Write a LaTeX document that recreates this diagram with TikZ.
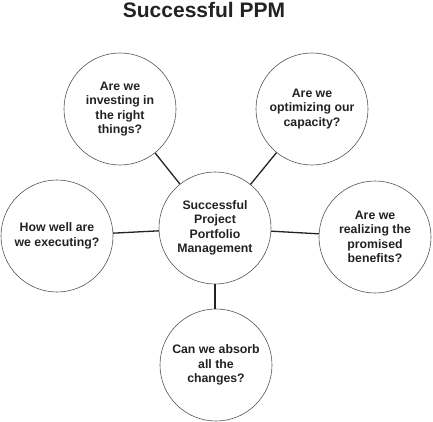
\documentclass[tikz,border=0pt]{standalone}
\usepackage{fontspec}
\setmainfont{Liberation Sans}
\definecolor{inkgray}{HTML}{222222}
\definecolor{rimgray}{HTML}{555555}
\begin{document}
\begin{tikzpicture}[x=1pt, y=-1pt,
		bubble/.style={circle, draw=rimgray, line width=0.6pt, minimum size=112pt, inner sep=0pt,
			align=center, text=inkgray, font=\bfseries\fontsize{12.3}{14.5}\selectfont},
		link/.style={draw=inkgray, line width=1.3pt}]
		\useasboundingbox (0, 0) rectangle (433, 422);
		
		\node[text=inkgray, font=\bfseries\fontsize{21}{24}\selectfont] (title) at (204, 10) {Successful PPM};
		
		\node[bubble] (ctr) at (215, 228) {Successful\\Project\\Portfolio\\Management};
		\node[bubble] (invest) at (120, 109) {Are we\\investing in\\the right\\things?};
		\node[bubble] (capacity) at (312, 109) {Are we\\optimizing our\\capacity?};
		\node[bubble] (execute) at (57, 236) {How well are\\we executing?};
		\node[bubble] (benefits) at (375, 237) {Are we\\realizing the\\promised\\benefits?};
		\node[bubble] (absorb) at (216, 365) {Can we absorb\\all the\\changes?};
		
		\draw[link] (invest) -- (ctr);
		\draw[link] (capacity) -- (ctr);
		\draw[link] (execute) -- (ctr);
		\draw[link] (benefits) -- (ctr);
		\draw[link] (ctr.south) -- (ctr.south |- absorb.north);
	\end{tikzpicture}
\end{document}
